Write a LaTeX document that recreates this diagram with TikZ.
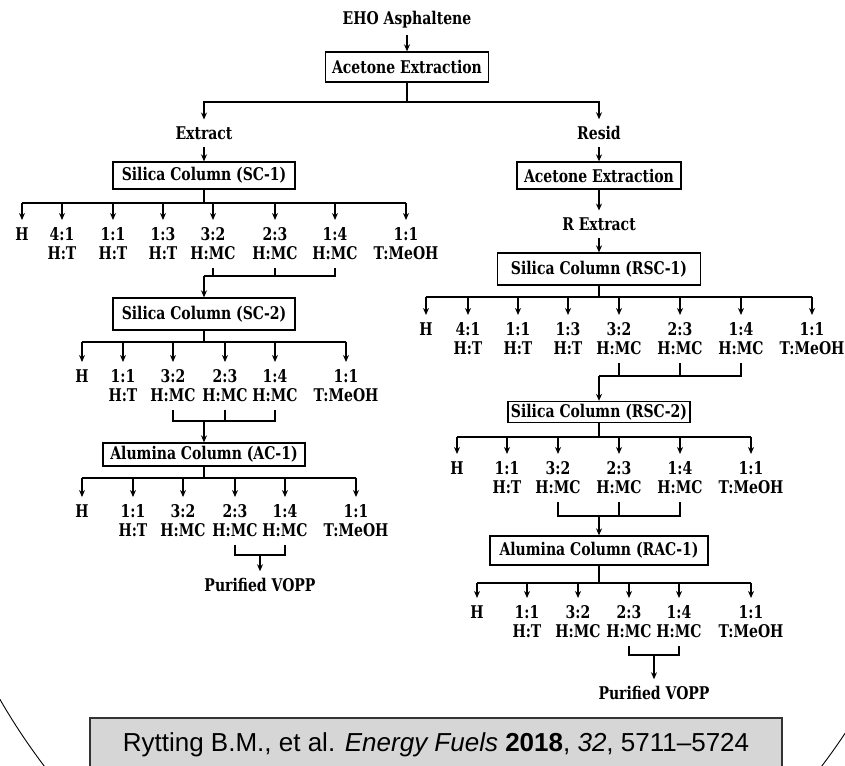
\documentclass[tikz,border=0pt]{standalone}
\usepackage{fontspec}
\usepackage{tikz}
\usetikzlibrary{arrows.meta}
\newfontfamily\flowfont[FakeStretch=0.8]{DejaVu Serif}
\newfontfamily\citefont{Liberation Sans}
\newcommand\flowsize{\fontsize{17.5pt}{19pt}\selectfont}

\tikzset{
  stagebox/.style={draw, line width=1.3pt, inner sep=0pt},
  frac/.style={align=center, anchor=north, inner sep=0pt, outer sep=8pt},
  tag/.style={inner sep=0pt, outer sep=7pt},
  ln/.style={line width=1.3pt},
}

\begin{document}
\begin{tikzpicture}[x=1pt, y=-1pt, >={Stealth[length=7pt,width=6pt]}, every node/.style={font=\flowfont\bfseries\flowsize}]
  \useasboundingbox (0,0) rectangle (845,765);
  \begin{scope}
    \clip (0,0) rectangle (845,765);
    \draw[line width=0.9pt] (433,330) ellipse[x radius=529pt, y radius=643pt];
  \end{scope}

  % top split
  \node[tag] (eho) at (407,20) {EHO Asphaltene};
  \node[stagebox, minimum width=163pt, minimum height=30pt] (acet) at (407,67) {Acetone Extraction};
  \draw[ln,->] (eho) -- (acet);
  \coordinate (split) at (407,102);
  \node[tag] (extr) at (204,133) {Extract};
  \node[tag] (resid) at (599,133) {Resid};
  \draw[ln] (acet) -- (split);
  \draw[ln,->] (split) -| (extr);
  \draw[ln,->] (split) -| (resid);

  % extract branch
  \node[stagebox, minimum width=182pt, minimum height=27pt] (sc1) at (204,175.5) {Silica Column (SC-1)};
  \draw[ln,->] (extr) -- (sc1);
  \coordinate (sc1bus) at (204,203);
  \foreach \x/\t [count=\i] in {22/H, 62/{4:1\\H:T}, 113/{1:1\\H:T}, 163/{1:3\\H:T}, 213/{3:2\\H:MC}, 275/{2:3\\H:MC}, 335/{1:4\\H:MC}, 406/{1:1\\T:MeOH}}
    \node[frac] (sca\i) at (\x,220) {\t};
  \draw[ln] (sc1) -- (sc1bus);
  \draw[ln] (sca1.north |- sc1bus) -- (sca8.north |- sc1bus);
  \foreach \i in {1,...,8}
    \draw[ln,->] (sca\i.north |- sc1bus) -- (sca\i);
  \coordinate (sc1out) at (204,276);
  \draw[ln] (sca5.south) |- (sc1out);
  \draw[ln] (sca6.south) -- (sca6.south |- sc1out);
  \draw[ln] (sca7.south) |- (sc1out);

  \node[stagebox, minimum width=182pt, minimum height=32pt] (sc2) at (204,314) {Silica Column (SC-2)};
  \draw[ln,->] (sc1out) -- (sc2);
  \coordinate (sc2bus) at (204,342);
  \foreach \x/\t [count=\i] in {82/H, 123/{1:1\\H:T}, 173/{3:2\\H:MC}, 225/{2:3\\H:MC}, 275/{1:4\\H:MC}, 346/{1:1\\T:MeOH}}
    \node[frac] (scb\i) at (\x,362) {\t};
  \draw[ln] (sc2) -- (sc2bus);
  \draw[ln] (scb1.north |- sc2bus) -- (scb6.north |- sc2bus);
  \foreach \i in {1,...,6}
    \draw[ln,->] (scb\i.north |- sc2bus) -- (scb\i);
  \coordinate (sc2out) at (204,421);
  \draw[ln] (scb3.south) |- (sc2out);
  \draw[ln] (scb4.south) -- (scb4.south |- sc2out);
  \draw[ln] (scb5.south) |- (sc2out);

  \node[stagebox, minimum width=202pt, minimum height=23pt] (ac1) at (204,454.5) {Alumina Column (AC-1)};
  \draw[ln,->] (sc2out) -- (ac1);
  \coordinate (ac1bus) at (204,478);
  \foreach \x/\t [count=\i] in {82/H, 133/{1:1\\H:T}, 183/{3:2\\H:MC}, 235/{2:3\\H:MC}, 285/{1:4\\H:MC}, 356/{1:1\\T:MeOH}}
    \node[frac] (aca\i) at (\x,497) {\t};
  \draw[ln] (ac1) -- (ac1bus);
  \draw[ln] (aca1.north |- ac1bus) -- (aca6.north |- ac1bus);
  \foreach \i in {1,...,6}
    \draw[ln,->] (aca\i.north |- ac1bus) -- (aca\i);
  \coordinate (ac1out) at (260,555);
  \draw[ln] (aca4.south) |- (ac1out) -| (aca5.south);
  \node[tag] (vopp1) at (260,585) {Purified VOPP};
  \draw[ln,->] (ac1out) -- (vopp1);

  % resid branch
  \node[stagebox, minimum width=164pt, minimum height=27pt] (acet2) at (599,175.5) {Acetone Extraction};
  \draw[ln,->] (resid) -- (acet2);
  \node[tag] (rext) at (599,224) {R Extract};
  \draw[ln,->] (acet2) -- (rext);
  \node[stagebox, minimum width=203pt, minimum height=32pt] (rsc1) at (599,269) {Silica Column (RSC-1)};
  \draw[ln,->] (rext) -- (rsc1);
  \coordinate (rsc1bus) at (599,297);
  \foreach \x/\t [count=\i] in {426/H, 468/{4:1\\H:T}, 518/{1:1\\H:T}, 568/{1:3\\H:T}, 619/{3:2\\H:MC}, 680/{2:3\\H:MC}, 741/{1:4\\H:MC}, 812/{1:1\\T:MeOH}}
    \node[frac] (rsa\i) at (\x,315) {\t};
  \draw[ln] (rsc1) -- (rsc1bus);
  \draw[ln] (rsa1.north |- rsc1bus) -- (rsa8.north |- rsc1bus);
  \foreach \i in {1,...,8}
    \draw[ln,->] (rsa\i.north |- rsc1bus) -- (rsa\i);
  \coordinate (rsc1out) at (599,376);
  \draw[ln] (rsa5.south) |- (rsc1out);
  \draw[ln] (rsa6.south) -- (rsa6.south |- rsc1out);
  \draw[ln] (rsa7.south) |- (rsc1out);

  \node[stagebox, minimum width=182pt, minimum height=21pt] (rsc2) at (599,412) {Silica Column (RSC-2)};
  \draw[ln,->] (rsc1out) -- (rsc2);
  \coordinate (rsc2bus) at (599,437);
  \foreach \x/\t [count=\i] in {457/H, 507/{1:1\\H:T}, 558/{3:2\\H:MC}, 619/{2:3\\H:MC}, 680/{1:4\\H:MC}, 751/{1:1\\T:MeOH}}
    \node[frac] (rsb\i) at (\x,454) {\t};
  \draw[ln] (rsc2) -- (rsc2bus);
  \draw[ln] (rsb1.north |- rsc2bus) -- (rsb6.north |- rsc2bus);
  \foreach \i in {1,...,6}
    \draw[ln,->] (rsb\i.north |- rsc2bus) -- (rsb\i);
  \coordinate (rsc2out) at (599,516);
  \draw[ln] (rsb3.south) -- (rsb3.south |- rsc2out) -- (rsb5.south |- rsc2out) -- (rsb5.south);
  \draw[ln] (rsb4.south) -- (rsb4.south |- rsc2out);

  \node[stagebox, minimum width=218pt, minimum height=29pt] (rac1) at (599,550.5) {Alumina Column (RAC-1)};
  \draw[ln,->] (rsc2out) -- (rac1);
  \coordinate (rac1bus) at (599,583);
  \foreach \x/\t [count=\i] in {477/H, 527/{1:1\\H:T}, 578/{3:2\\H:MC}, 629/{2:3\\H:MC}, 679/{1:4\\H:MC}, 751/{1:1\\T:MeOH}}
    \node[frac] (raa\i) at (\x,598) {\t};
  \draw[ln] (rac1) -- (rac1bus);
  \draw[ln] (raa1.north |- rac1bus) -- (raa6.north |- rac1bus);
  \foreach \i in {1,...,6}
    \draw[ln,->] (raa\i.north |- rac1bus) -- (raa\i);
  \coordinate (rac1out) at (654,655);
  \draw[ln] (raa4.south) |- (rac1out) -| (raa5.south);
  \node[tag] (vopp2) at (654,693) {Purified VOPP};
  \draw[ln,->] (rac1out) -- (vopp2);

  % reference
  \node[draw=black!80, line width=1.6pt, fill=black!16, minimum width=692pt, minimum height=54pt, anchor=north,
        font=\citefont\fontsize{26pt}{30pt}\selectfont] (cite) at (436,717)
        {Rytting B.M., et al. \textit{Energy Fuels} \textbf{2018}, \textit{32}, 5711\textendash 5724};
\end{tikzpicture}
\end{document}
